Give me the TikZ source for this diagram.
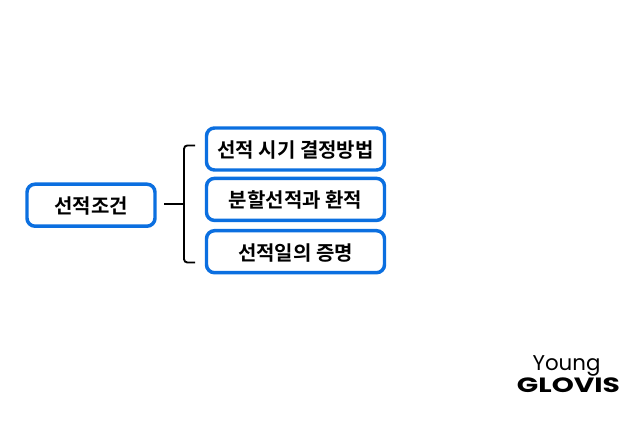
\documentclass[tikz,border=0pt]{standalone}
\usepackage{fontspec}
\newfontfamily\krfont{Noto Sans CJK KR Bold}
\newfontfamily\logofont{Poppins}
\definecolor{boxblue}{HTML}{0B6FE0}
\tikzset{
  pillbox/.style={draw=boxblue,line width=2.6pt,rounded corners=6pt,fill=white,inner sep=0pt,minimum height=31.5pt,font=\krfont\fontsize{15}{17}\selectfont,text=black,text height=14.4pt,text depth=1.5pt},
  widebox/.style={pillbox,minimum width=133.5pt},
  brack/.style={draw=black,line width=1.4pt,rounded corners=2.5pt},
}
\begin{document}
\begin{tikzpicture}[x=0.75pt,y=-0.75pt]
\useasboundingbox[fill=white] (0,0) rectangle (640,427);
\node[pillbox,minimum width=96pt] (root) at (91,205.2) {선적조건};
\node[widebox] (a) at (295.5,149) {선적 시기 결정방법};
\node[widebox] (b) at (295.5,199.4) {분할선적과 환적};
\node[widebox] (c) at (295.5,251.7) {선적일의 증명};
\coordinate (stemL) at (164,204);
\coordinate (stemR) at (184,204);
\coordinate (brT) at (195,145.5);
\coordinate (brB) at (195,262.5);
\draw[brack] (brT) -| (stemR) |- (brB);
\draw[brack,rounded corners=0pt] (stemL) -- (stemR);
\node[font=\logofont\fontsize{16}{18}\selectfont,text=black,inner sep=0pt] (young) at (566.5,366) {Young};
\node[font=\logofont\bfseries\fontsize{15.5}{18}\selectfont,text=black,inner sep=0pt,xscale=1.36] (glovis) at (568.5,385.5) {GLOVIS};
\end{tikzpicture}
\end{document}
